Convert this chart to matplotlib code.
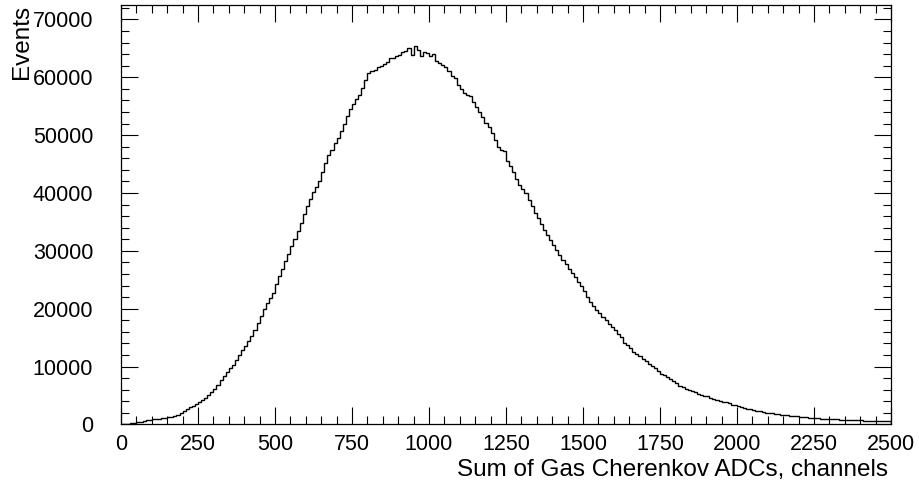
import numpy as np
import matplotlib
matplotlib.use('Agg')
import matplotlib.pyplot as plt
from matplotlib.ticker import MultipleLocator

OUT_PATH = 'out.png'

# histogram: 250 bins of width 10 from 0 to 2500
BIN_EDGES = np.arange(0, 2501, 10)
COUNTS = [
    80, 120, 150, 200, 300, 400, 500, 600, 700, 800,
    900, 960, 1020, 1100, 1180, 1250, 1350, 1450, 1700, 1950,
    2250, 2600, 2950, 3250, 3550, 3830, 4200, 4600, 5050, 5600,
    6200, 6850, 7600, 8400, 9000, 9700, 10350, 11200, 12000, 12800,
    13600, 14400, 15300, 16400, 17500, 18700, 20000, 21000, 21900, 22800,
    24300, 25600, 26900, 28200, 29500, 30800, 32000, 33500, 34900, 36400,
    37700, 39000, 40200, 41000, 42000, 43600, 45100, 46500, 47500, 48600,
    49500, 50800, 52000, 53300, 54500, 55400, 56200, 57000, 58200, 59600,
    60700, 61000, 61300, 61700, 61900, 62300, 62600, 63400, 63300, 63700,
    63900, 64300, 64600, 65000, 63900, 65400, 64700, 63600, 64300, 64200,
    63600, 64100, 62800, 62500, 62200, 61700, 61000, 60300, 59800, 58700,
    58000, 57300, 57000, 56700, 55800, 54900, 54000, 53200, 52100, 51400,
    50300, 49200, 48000, 47400, 47200, 45500, 44600, 43700, 42400, 41400,
    40700, 40000, 38800, 37700, 36600, 35600, 34600, 33600, 32800, 31900,
    31000, 30200, 29300, 28400, 27700, 26900, 26200, 25400, 24700, 23900,
    23000, 22100, 21200, 20400, 19800, 19200, 18600, 18000, 17400, 16900,
    16300, 15700, 15100, 14100, 13700, 13200, 12600, 12200, 11800, 11400,
    11000, 10500, 10100, 9700, 9200, 8800, 8500, 8150, 7850, 7500,
    7100, 6600, 6400, 6150, 5900, 5750, 5550, 5350, 5150, 5000,
    4850, 4650, 4450, 4250, 4100, 3950, 3800, 3650, 3450, 3300,
    3150, 3050, 2900, 2750, 2630, 2520, 2400, 2300, 2180, 2060,
    1980, 1900, 1820, 1750, 1680, 1620, 1560, 1500, 1450, 1400,
    1350, 1300, 1250, 1200, 1150, 1100, 1060, 1030, 1000, 960,
    920, 900, 880, 850, 830, 800, 780, 760, 740, 720,
    700, 680, 650, 630, 610, 600, 580, 560, 540, 520,
]
X_LABEL = 'Sum of Gas Cherenkov ADCs, channels'
Y_LABEL = 'Events'


def main():
    plt.rcParams['font.family'] = ['Liberation Sans', 'DejaVu Sans']
    fig = plt.figure(figsize=(9.2, 4.93), dpi=100)
    ax = fig.add_axes([0.1315, 0.139, 0.837, 0.851])

    ax.stairs(COUNTS, BIN_EDGES, color='black', lw=1.0)

    ax.set_xlim(0, 2500)
    ax.set_ylim(0, 72500)
    ax.xaxis.set_major_locator(MultipleLocator(250))
    ax.xaxis.set_minor_locator(MultipleLocator(50))
    ax.yaxis.set_major_locator(MultipleLocator(10000))
    ax.yaxis.set_minor_locator(MultipleLocator(2000))
    ax.tick_params(which='both', direction='in', top=True, right=True,
                   width=0.8, labelsize=15.5)
    ax.tick_params(which='major', length=12)
    ax.tick_params(which='minor', length=6)
    ax.tick_params(axis='x', pad=7)
    ax.tick_params(axis='y', pad=20)
    for sp in ax.spines.values():
        sp.set_linewidth(0.9)

    ax.set_xlabel(X_LABEL, fontsize=17.5, loc='right')
    ax.xaxis.set_label_coords(0.996, -0.082)
    ax.set_ylabel(Y_LABEL, fontsize=17.5, loc='top')
    ax.yaxis.set_label_coords(-0.114, 1.0)

    fig.savefig(OUT_PATH, dpi=100)
    plt.close(fig)


if __name__ == '__main__':
    main()
